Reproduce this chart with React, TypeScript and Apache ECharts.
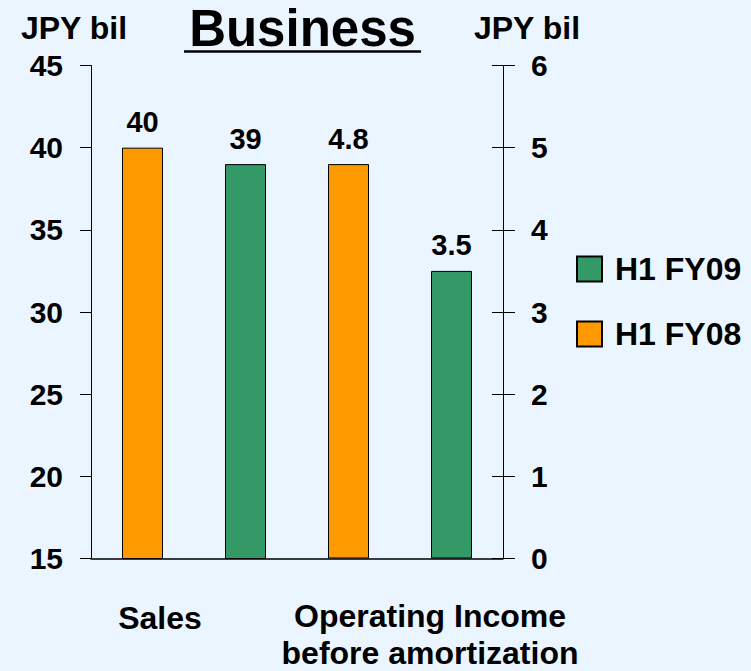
import React, { useEffect, useRef } from "react";
import * as echarts from "echarts";

const slots = ["Sales H1 FY08", "Sales H1 FY09", "OI H1 FY08", "OI H1 FY09"];
const periods = ["H1 FY08", "H1 FY09"];
const legendOrder = ["H1 FY09", "H1 FY08"];
const salesValues = [40, 39]; // JPY bil, left axis (FY08, FY09)
const operatingIncomeValues = [4.8, 3.5]; // JPY bil, right axis (FY08, FY09)
const leftAxisRange = [15, 45, 5];
const rightAxisRange = [0, 6, 1];
const metricLabels = ["Sales", "Operating Income\nbefore amortization"];
const titleText = "Business";
const unitText = "JPY bil";

const ORANGE = "#FF9900";
const GREEN = "#339966";
const BG = "#EBF5FF";
const FONT = "'Liberation Sans', Arial, Helvetica, sans-serif";

export default function App() {
  const ref = useRef<HTMLDivElement>(null);

  useEffect(() => {
    if (!ref.current) return;
    const chart = echarts.init(ref.current, undefined, { renderer: "svg" });

    const colorOf = (p: string) => (p === "H1 FY08" ? ORANGE : GREEN);
    const place = (idx: number, v: number) => slots.map((_, i) => (i === idx ? v : "-"));

    const barCommon = {
      type: "bar",
      barWidth: 41,
      barGap: "-100%",
      clip: true,
      label: {
        show: true,
        position: "top",
        distance: 11,
        color: "#000",
        fontSize: 29,
        fontWeight: "bold",
        fontFamily: FONT,
      },
    };

    const series: any[] = [];
    periods.forEach((p, pi) => {
      series.push({
        ...barCommon,
        name: p,
        yAxisIndex: 0,
        data: place(pi, salesValues[pi]),
        itemStyle: { color: colorOf(p), borderColor: "#000", borderWidth: 1 },
      });
    });
    periods.forEach((p, pi) => {
      series.push({
        ...barCommon,
        name: p,
        yAxisIndex: 1,
        data: place(2 + pi, operatingIncomeValues[pi]),
        itemStyle: { color: colorOf(p), borderColor: "#000", borderWidth: 1 },
      });
    });

    const axisLabelStyle = {
      color: "#000",
      fontSize: 30,
      fontWeight: "bold",
      fontFamily: FONT,
    };

    chart.setOption({
      animation: false,
      backgroundColor: BG,
      textStyle: { fontFamily: FONT },
      grid: { left: 91, right: 248, top: 65.5, bottom: 112.5, containLabel: false },
      legend: {
        data: legendOrder,
        orient: "vertical",
        left: 576,
        top: 253,
        padding: 0,
        itemWidth: 25,
        itemHeight: 25,
        itemGap: 33,
        icon: "rect",
        textStyle: {
          color: "#000",
          fontSize: 32,
          fontWeight: "bold",
          fontFamily: FONT,
          padding: [0, 0, 0, 8],
        },
      },
      xAxis: {
        type: "category",
        data: slots,
        axisLine: { show: true, lineStyle: { color: "#000", width: 1.5 } },
        axisTick: { show: false },
        axisLabel: { show: false },
        splitLine: { show: false },
      },
      yAxis: [
        {
          type: "value",
          position: "left",
          min: leftAxisRange[0],
          max: leftAxisRange[1],
          interval: leftAxisRange[2],
          axisLine: { show: true, lineStyle: { color: "#000", width: 1 } },
          axisTick: { show: true, inside: false, length: 11, lineStyle: { color: "#000" } },
          axisLabel: { ...axisLabelStyle, margin: 28 },
          splitLine: { show: false },
        },
        {
          type: "value",
          position: "right",
          min: rightAxisRange[0],
          max: rightAxisRange[1],
          interval: rightAxisRange[2],
          axisLine: { show: true, lineStyle: { color: "#000", width: 1 } },
          axisTick: { show: true, inside: false, length: 12, lineStyle: { color: "#000" } },
          axisLabel: { ...axisLabelStyle, margin: 28 },
          splitLine: { show: false },
        },
        {
          type: "value",
          position: "right",
          min: rightAxisRange[0],
          max: rightAxisRange[1],
          interval: rightAxisRange[2],
          axisLine: { show: false },
          axisTick: { show: true, inside: true, length: 11, lineStyle: { color: "#000" } },
          axisLabel: { show: false },
          splitLine: { show: false },
        },
      ],
      series,
      graphic: [
        {
          type: "text",
          x: 302.5,
          y: 28,
          style: {
            text: titleText,
            fill: "#000",
            font: `bold 51px ${FONT}`,
            textAlign: "center",
            textVerticalAlign: "middle",
          },
        },
        {
          type: "line",
          shape: { x1: 184, y1: 51.5, x2: 421, y2: 51.5 },
          style: { stroke: "#000", lineWidth: 2.5 },
        },
        {
          type: "text",
          x: 74,
          y: 27.5,
          style: {
            text: unitText,
            fill: "#000",
            font: `bold 32px ${FONT}`,
            textAlign: "center",
            textVerticalAlign: "middle",
          },
        },
        {
          type: "text",
          x: 527,
          y: 27.5,
          style: {
            text: unitText,
            fill: "#000",
            font: `bold 32px ${FONT}`,
            textAlign: "center",
            textVerticalAlign: "middle",
          },
        },
        {
          type: "text",
          x: 160,
          y: 617.5,
          style: {
            text: metricLabels[0],
            fill: "#000",
            font: `bold 32px ${FONT}`,
            textAlign: "center",
            textVerticalAlign: "middle",
          },
        },
        {
          type: "text",
          x: 430,
          y: 634,
          style: {
            text: metricLabels[1],
            fill: "#000",
            font: `bold 32px ${FONT}`,
            lineHeight: 37,
            textAlign: "center",
            textVerticalAlign: "middle",
          },
        },
      ],
    });

    return () => chart.dispose();
  }, []);

  return (
    <div
      ref={ref}
      style={{ position: "fixed", left: 0, top: 0, width: 751, height: 671, background: BG }}
    />
  );
}
